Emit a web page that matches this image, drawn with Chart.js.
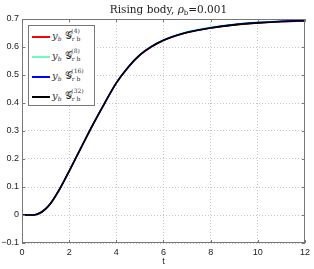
<!DOCTYPE html>
<html><head><meta charset="utf-8">
<script src="https://cdn.jsdelivr.net/npm/chart.js@4/dist/chart.umd.min.js"></script>
<style>
html,body{margin:0;padding:0;background:#fff;}
#wrap{position:relative;width:314px;height:269px;}
#legend{position:absolute;left:28px;top:25px;width:67px;height:81px;border:1px solid #777;background:#fff;box-sizing:border-box;font-family:"DejaVu Serif","Liberation Serif",serif;}
.it{position:absolute;left:2px;height:20px;width:64px;}
.sw{position:absolute;left:1px;top:9px;width:18px;height:2px;}
.lb{position:absolute;left:21px;top:3px;font-size:10px;white-space:nowrap;line-height:12px;color:#333;}
.lb i{font-style:italic;}
.sub{font-size:6px;vertical-align:-2px;}
</style>
</head><body>
<div id="wrap"><canvas id="c" width="314" height="269"></canvas><div id="legend"></div></div>
<script>
const tVals=[0,0.4,0.6,0.8,1.0,1.2,1.6,2,2.5,3,3.5,4,4.5,5,5.5,6,6.5,7,8,9,10,11,12];
const yRed=  [0,0,0.002,0.009,0.021,0.039,0.092,0.156,0.239,0.321,0.398,0.471,0.527,0.571,0.601,0.623,0.639,0.652,0.668,0.679,0.686,0.690,0.693];
const yGreen=[0,0,0.002,0.009,0.022,0.040,0.093,0.157,0.240,0.322,0.399,0.472,0.528,0.573,0.603,0.625,0.641,0.654,0.670,0.681,0.688,0.693,0.696];
const yBlue= [0,0,0.002,0.009,0.022,0.040,0.093,0.157,0.240,0.322,0.399,0.472,0.528,0.572,0.602,0.624,0.640,0.653,0.669,0.680,0.687,0.692,0.695];
const yBlack=[0,0,0.002,0.009,0.022,0.040,0.093,0.157,0.240,0.322,0.399,0.472,0.528,0.572,0.602,0.624,0.640,0.652,0.668,0.679,0.686,0.691,0.694];
const seriesLevels=['4','8','16','32'];
const seriesColors=['#ff0000','#66ffbb','#0000ff','#000000'];
const xTicks=[0,2,4,6,8,10,12];
const yTicks=[-0.1,0,0.1,0.2,0.3,0.4,0.5,0.6,0.7];

function pts(ys){return tVals.map((t,i)=>({x:t,y:ys[i]}));}
const allY=[yRed,yGreen,yBlue,yBlack];

const boxTicks={id:'boxTicks',afterDraw(ch){
  const c=ch.ctx,a=ch.chartArea,xs=ch.scales.x,ys=ch.scales.y;
  c.save();c.strokeStyle='#777';c.lineWidth=1;
  c.strokeRect(a.left+0.5,a.top+0.5,a.right-a.left-1,a.bottom-a.top-1);
  c.beginPath();
  xTicks.forEach(v=>{const p=Math.round(xs.getPixelForValue(v))+0.5;c.moveTo(p,a.bottom);c.lineTo(p,a.bottom-3);c.moveTo(p,a.top);c.lineTo(p,a.top+3);});
  yTicks.forEach(v=>{const p=Math.round(ys.getPixelForValue(v))+0.5;c.moveTo(a.left,p);c.lineTo(a.left+3,p);c.moveTo(a.right,p);c.lineTo(a.right-3,p);});
  c.stroke();
  c.fillStyle='#222';c.textBaseline='alphabetic';
  const cx=(a.left+a.right)/2+5;
  const F='10.5px "DejaVu Serif", serif', FI='italic 10.5px "DejaVu Serif", serif', FS='7px "DejaVu Serif", serif';
  c.font=F;const wa=c.measureText('Rising body, ').width;
  c.font=FI;const wr=c.measureText('ρ').width;
  c.font=FS;const wb=c.measureText('b').width;
  c.font=F;const wc=c.measureText('=0.001').width;
  let x0=cx-(wa+wr+wb+wc)/2, y0=12.5;
  c.font=F;c.fillText('Rising body, ',x0,y0);
  c.font=FI;c.fillText('ρ',x0+wa,y0);
  c.font=FS;c.fillText('b',x0+wa+wr,y0+2);
  c.font=F;c.fillText('=0.001',x0+wa+wr+wb,y0);
  c.restore();
}};

new Chart(document.getElementById('c'),{
  type:'line',
  data:{datasets:allY.map((ys,i)=>({label:'G'+seriesLevels[i],data:pts(ys),order:allY.length-i,borderColor:seriesColors[i],borderWidth:1.6,pointRadius:0,fill:false,cubicInterpolationMode:'monotone'}))},
  options:{
    responsive:false,animation:false,
    layout:{padding:{left:0,right:8,top:19,bottom:0}},
    plugins:{legend:{display:false},tooltip:{enabled:false},title:{display:false}},
    scales:{
      x:{type:'linear',min:0,max:12,
        afterBuildTicks(s){s.ticks=xTicks.map(v=>({value:v}));},
        afterFit(s){s.height=26;},
        border:{display:false,dash:[1,2]},
        grid:{color:'#c4c4c4',lineWidth:1,drawTicks:false},
        ticks:{padding:4,color:'#222',font:{family:'"Liberation Sans", Arial',size:9},maxRotation:0},
        title:{display:true,text:'t',color:'#222',font:{family:'"Liberation Sans", Arial',size:9},padding:{top:0,bottom:2}}
      },
      y:{type:'linear',min:-0.1,max:0.7,
        afterBuildTicks(s){s.ticks=yTicks.map(v=>({value:v}));},
        afterFit(s){s.width=22;},
        border:{display:false,dash:[1,2]},
        grid:{color:'#c4c4c4',lineWidth:1,drawTicks:false},
        ticks:{padding:3,color:'#222',font:{family:'"Liberation Sans", Arial',size:9},
          callback(v){const r=Math.round(v*10)/10; if(r===0) return '0'; return (r<0?'−':'')+Math.abs(r).toFixed(1);}}
      }
    }
  },
  plugins:[boxTicks]
});

const lg=document.getElementById('legend');
seriesLevels.forEach((lv,i)=>{
  const d=document.createElement('div');d.className='it';d.style.top=(1+i*20)+'px';
  d.innerHTML='<div class="sw" style="background:'+seriesColors[i]+'"></div><div class="lb"><i>y</i><span class="sub"><i>b</i></span> 𝒢<span class="sub">r b</span><span style="font-size:6px;position:relative;top:-6px;margin-left:-9px">('+lv+')</span></div>';
  lg.appendChild(d);
});
</script>
</body></html>
